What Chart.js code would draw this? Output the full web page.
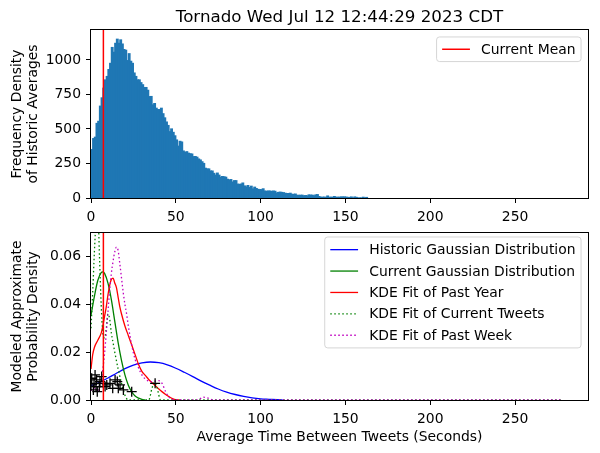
<!DOCTYPE html>
<html lang="en">
<head>
  <meta charset="UTF-8" />
  <title>Tornado - time between tweets</title>
  <script src="https://cdn.jsdelivr.net/npm/chart.js"></script>
  <style>
    html, body { margin: 0; padding: 0; background: #fff; }
    #wrap { position: relative; width: 600px; height: 453px; }
    #histChart { position: absolute; left: 0; top: 0; }
    #pdfChart { position: absolute; left: 0; top: 213px; }
  </style>
</head>
<body>
  <div id="wrap">
    <canvas id="histChart" width="600" height="226"></canvas>
    <canvas id="pdfChart" width="600" height="240"></canvas>
  </div>

  <script>
    // ---- data ----
    const titleText = 'Tornado Wed Jul 12 12:44:29 2023 CDT';
    const currentMean = 7.3;

    // histogram, one bin per second starting at 0
    const histCounts = [
      350, 430, 440, 540, 555, 665, 725, 795, 855, 880,
      930, 975, 1090, 1055, 1120, 1150, 1120, 1145, 1115, 1075,
      1070, 995, 1045, 990, 975, 905, 880, 855, 855, 835,
      820, 800, 800, 780, 734, 735, 674, 684, 650, 640,
      640, 650, 610, 580, 550, 525, 480, 500, 475, 450,
      420, 375, 410, 405, 340, 330, 335, 324, 320, 318,
      299, 300, 295, 282, 275, 262, 250, 215, 210, 210,
      195, 195, 178, 165, 180, 165, 150, 155, 153, 150,
      135, 130, 133, 115, 125, 125, 100, 98, 100, 108,
      87, 80, 90, 75, 85, 65, 78, 68, 62, 60,
      60, 66, 50, 48, 50, 50, 47, 50, 48, 36,
      40, 42, 40, 38, 34, 32, 32, 34, 26, 26,
      28, 19, 19, 19, 20, 15, 17, 15, 22, 20,
      20, 15, 22, 24, 10, 5, 5, 6, 4, 14,
      5, 5, 5, 10, 5, 5, 5, 7, 7, 7,
      6, 2, 2, 7, 0, 7, 4, 0, 0, 0,
      5, 0, 3
    ];

    const xTicks = [0, 50, 100, 150, 200, 250];
    const histYTicks = [0, 250, 500, 750, 1000];
    const pdfYTicks = [0, 0.02, 0.04, 0.06];
    const xMax = 293;
    const histYMax = 1217;
    const pdfYMax = 0.0699;

    // Historic Gaussian Distribution
    const histGaussX = [0, 5, 10, 15, 20, 25, 30, 35, 40, 45, 50, 55, 60, 65, 70, 75, 80, 85, 90, 95, 100, 105, 110, 113];
    const histGaussY = [0.0060, 0.0074, 0.0092, 0.0112, 0.0131, 0.0146, 0.0155, 0.0159, 0.0156, 0.0147, 0.0133, 0.0116,
                        0.0098, 0.0079, 0.0062, 0.0046, 0.0033, 0.0023, 0.0015, 0.0009, 0.0005, 0.0003, 0.0001, 0];

    // Current Gaussian Distribution
    const curGaussX = [0, 2, 4, 6, 7, 8, 10, 12, 14, 16, 18, 20, 22, 24, 26, 28, 30, 32];
    const curGaussY = [0.0355, 0.0434, 0.0500, 0.0533, 0.0536, 0.0530, 0.0489, 0.0420, 0.0330, 0.0240, 0.0165, 0.0105,
                       0.0062, 0.0034, 0.0017, 0.0008, 0.0003, 0];

    // KDE Fit of Past Year
    const yearKdeX = [0, 1, 2, 4, 6, 7, 8, 9, 10, 11, 12, 13, 14, 15, 16, 17, 18, 20, 22, 24, 26, 28, 30, 32, 34, 36, 38, 40, 42, 44, 46, 48, 50, 52];
    const yearKdeY = [0.013, 0.019, 0.022, 0.025, 0.028, 0.031, 0.035, 0.039, 0.044, 0.048, 0.0505, 0.051, 0.049, 0.047,
                      0.043, 0.039, 0.036, 0.031, 0.027, 0.023, 0.019, 0.015, 0.012, 0.0103, 0.0086, 0.0072, 0.006,
                      0.0046, 0.0034, 0.0023, 0.0014, 0.0006, 0.0001, 0];

    // KDE Fit of Current Tweets
    const tweetKdeX = [0, 1, 2, 3, 4, 5, 6, 7, 8, 9, 10, 11, 12, 13, 14, 16, 18, 20, 22, 34, 36, 37.5, 39, 41, 278];
    const tweetKdeY = [0.030, 0.045, 0.062, 0.075, 0.080, 0.060, 0.040, 0.028, 0.026, 0.030, 0.036, 0.034, 0.028, 0.024,
                       0.020, 0.013, 0.007, 0.002, 0, 0, 0.005, 0.0075, 0.005, 0, 0];

    // KDE Fit of Past Week
    const weekKdeX = [0, 2, 4, 6, 7, 8, 9, 10, 11, 12, 13, 14, 15, 16, 17, 18, 19, 20, 21, 22, 24, 26, 28, 30, 32, 34, 36,
                      38, 40, 42, 44, 46, 48, 50, 63, 66, 69, 72, 278];
    const weekKdeY = [0.004, 0.005, 0.004, 0.008, 0.013, 0.0195, 0.028, 0.037, 0.046, 0.053, 0.058, 0.062, 0.064, 0.0625,
                      0.057, 0.051, 0.045, 0.040, 0.036, 0.031, 0.023, 0.017, 0.0135, 0.0105, 0.0088, 0.0079, 0.0076,
                      0.0079, 0.0081, 0.0068, 0.0035, 0.0012, 0.0003, 0, 0, 0.0012, 0.0008, 0, 0];

    // individual current tweet gaps (black + markers)
    const tweetX = [0.4, 1.8, 3.3, 4.9, 6.3, 7.3, 1.4, 3.7, 5.3, 11.2, 12.8, 14.2, 15.5, 17.1, 19.1, 24, 37.8, 2.4, 9.3, 16.1, 0, 3, 8.3];
    const tweetY = [0.0091, 0.0070, 0.0084, 0.0056, 0.0098, 0.0070, 0.0042, 0.0035, 0.0077, 0.0070, 0.0049, 0.0084,
                    0.0077, 0.0063, 0.0042, 0.0035, 0.0070, 0.0105, 0.0063, 0.0049, 0.0063, 0.0056, 0.0056];

    // ---- helpers ----
    const FONT = 'DejaVu Sans';
    const FS = 13.9;
    Chart.defaults.font.family = FONT;
    Chart.defaults.font.size = FS;
    Chart.defaults.color = '#000';

    const toPoints = (xs, ys) => xs.map((x, i) => ({ x: x, y: ys[i] }));

    // axes frame (all four spines)
    const framePlugin = {
      id: 'frame',
      afterDatasetsDraw(chart) {
        const a = chart.chartArea, ctx = chart.ctx;
        ctx.save();
        ctx.strokeStyle = '#000';
        ctx.lineWidth = 1;
        ctx.strokeRect(Math.round(a.left) - 0.5, Math.round(a.top) - 0.5,
                       Math.round(a.right - a.left) + 1, Math.round(a.bottom - a.top) + 1);
        ctx.restore();
      }
    };

    // matplotlib-like legend box in the upper right of the axes
    const boxLegend = {
      id: 'boxLegend',
      afterDraw(chart, args, opts) {
        const items = chart.data.datasets.filter(d => d.inLegend);
        if (!items.length) return;
        const ctx = chart.ctx, a = chart.chartArea;
        const pad = 0.4 * FS, handle = 2 * FS, gap = 0.8 * FS, rowH = opts.rowH || 13.5, spacing = opts.spacing || 0.5 * FS;
        ctx.save();
        ctx.font = FS + 'px "' + FONT + '"';
        const textW = Math.max(...items.map(d => ctx.measureText(d.label).width));
        const w = pad * 2 + handle + gap + textW;
        const h = pad * 2 + items.length * rowH + (items.length - 1) * spacing;
        const x0 = a.right - 0.5 * FS - w, y0 = a.top + (opts.topGap !== undefined ? opts.topGap : 0.5 * FS);
        ctx.beginPath();
        ctx.roundRect(x0, y0, w, h, 3);
        ctx.fillStyle = 'rgba(255,255,255,0.8)';
        ctx.fill();
        ctx.strokeStyle = 'rgba(204,204,204,0.8)';
        ctx.lineWidth = 1;
        ctx.stroke();
        items.forEach((d, i) => {
          const cy = y0 + pad + i * (rowH + spacing) + rowH / 2;
          ctx.beginPath();
          ctx.strokeStyle = d.borderColor;
          ctx.lineWidth = d.borderWidth;
          ctx.setLineDash(d.borderDash || []);
          ctx.moveTo(x0 + pad, cy);
          ctx.lineTo(x0 + pad + handle, cy);
          ctx.stroke();
          ctx.setLineDash([]);
          ctx.fillStyle = '#000';
          ctx.textBaseline = 'middle';
          ctx.fillText(d.label, x0 + pad + handle + gap, cy + 1);
        });
        ctx.restore();
      }
    };

    const titlePlugin = {
      id: 'plotTitle',
      afterDraw(chart, args, opts) {
        if (!opts.text) return;
        const a = chart.chartArea, ctx = chart.ctx;
        ctx.save();
        ctx.font = '16.7px "' + FONT + '"';
        ctx.fillStyle = '#000';
        ctx.textAlign = 'center';
        ctx.textBaseline = 'alphabetic';
        ctx.fillText(opts.text, (a.left + a.right) / 2, a.top - 8.3);
        ctx.restore();
      }
    };

    function xAxis(height, titleText) {
      return {
        type: 'linear', min: 0, max: xMax, offset: false,
        grid: { drawOnChartArea: false, drawTicks: true, tickLength: 5, tickWidth: 1, tickColor: '#000', offset: false },
        border: { display: false },
        ticks: { color: '#000', padding: 6, maxRotation: 0, autoSkip: false },
        afterBuildTicks: s => { s.ticks = xTicks.map(v => ({ value: v })); },
        afterFit: s => { s.height = height; },
        title: titleText ? { display: true, text: titleText, color: '#000', padding: { top: 0, bottom: 7.7 } } : { display: false }
      };
    }

    function yAxis(max, ticks, fmt, titleLines) {
      return {
        min: 0, max: max,
        grid: { drawOnChartArea: false, drawTicks: true, tickLength: 5, tickWidth: 1, tickColor: '#000' },
        border: { display: false },
        ticks: { color: '#000', padding: 5, callback: fmt },
        afterBuildTicks: s => { s.ticks = ticks.map(v => ({ value: v })); },
        afterFit: s => { s.width = 91; },
        title: { display: true, text: titleLines, color: '#000', padding: { top: 8.7, bottom: 0 } }
      };
    }

    // ---- top: histogram of historic averages ----
    new Chart(document.getElementById('histChart'), {
      type: 'bar',
      data: {
        datasets: [
          {
            type: 'line', label: 'Current Mean', inLegend: true,
            data: [{ x: currentMean, y: 0 }, { x: currentMean, y: histYMax }],
            borderColor: '#ff0000', borderWidth: 1.5, pointRadius: 0, order: 0
          },
          {
            label: 'Historic averages',
            data: histCounts.map((c, i) => ({ x: i + 0.5, y: c })),
            backgroundColor: '#1f77b4', borderWidth: 0, inflateAmount: 0.6,
            barPercentage: 1, categoryPercentage: 1, order: 1
          }
        ]
      },
      options: {
        responsive: false, animation: false,
        layout: { padding: { top: 30, right: 12, left: 0, bottom: 0 } },
        scales: {
          x: xAxis(28, null),
          y: yAxis(histYMax, histYTicks, v => String(v), ['Frequency Density', 'of Historic Averages'])
        },
        plugins: {
          legend: { display: false },
          tooltip: { enabled: false },
          plotTitle: { text: titleText },
          boxLegend: { rowH: 13.5 }
        }
      },
      plugins: [framePlugin, boxLegend, titlePlugin]
    });

    // ---- bottom: modelled probability densities ----
    const curve = (label, xs, ys, color, dash, order) => ({
      label: label, inLegend: true, data: toPoints(xs, ys),
      borderColor: color, borderWidth: 1.3, borderDash: dash, pointRadius: 0,
      cubicInterpolationMode: 'monotone', fill: false, order: order
    });

    new Chart(document.getElementById('pdfChart'), {
      type: 'line',
      data: {
        datasets: [
          curve('Historic Gaussian Distribution', histGaussX, histGaussY, '#0000ff', [], 7),
          curve('Current Gaussian Distribution', curGaussX, curGaussY, '#008000', [], 6),
          curve('KDE Fit of Past Year', yearKdeX, yearKdeY, '#ff0000', [], 5),
          curve('KDE Fit of Current Tweets', tweetKdeX, tweetKdeY, '#008000', [1.5, 2.5], 4),
          curve('KDE Fit of Past Week', weekKdeX, weekKdeY, '#bf00bf', [1.5, 2.5], 3),
          {
            label: 'Current tweets', data: toPoints(tweetX, tweetY), showLine: false,
            pointStyle: 'cross', pointRadius: 5, pointBorderColor: '#000', pointBorderWidth: 1.3,
            borderColor: '#000', order: 2
          },
          {
            label: 'Current Mean',
            data: [{ x: currentMean, y: 0 }, { x: currentMean, y: pdfYMax }],
            borderColor: '#ff0000', borderWidth: 1.5, pointRadius: 0, order: 1
          }
        ]
      },
      options: {
        responsive: false, animation: false,
        layout: { padding: { top: 20, right: 12, left: 0, bottom: 0 } },
        scales: {
          x: xAxis(53, 'Average Time Between Tweets (Seconds)'),
          y: yAxis(pdfYMax, pdfYTicks, v => v.toFixed(2), ['Modeled Approximate', 'Probability Density'])
        },
        plugins: {
          legend: { display: false },
          tooltip: { enabled: false },
          boxLegend: { rowH: 14.2, spacing: 7.2, topGap: 4 }
        }
      },
      plugins: [framePlugin, boxLegend]
    });
  </script>
</body>
</html>
